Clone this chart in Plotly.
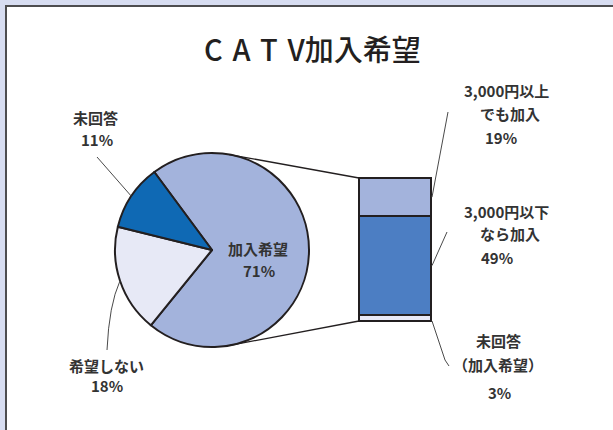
import math
import plotly.graph_objects as go

W, H = 613, 430

title_text = "C\u2004A\u2004T\u2004V加入希望"

# 円グラフ(全体)
pie_labels = ["加入希望", "希望しない", "未回答"]
pie_values = [71, 18, 11]
pie_colors = ["#a3b3dc", "#e7e9f6", "#0f69b4"]

# 棒グラフ(加入希望の内訳, 下から)
bar_labels = ["未回答（加入希望）", "3,000円以下なら加入", "3,000円以上でも加入"]
bar_values = [3, 49, 19]
bar_colors = ["#e7e9f6", "#4c7ec3", "#a3b3dc"]
bar_text_lines = [["未回答", "（加入希望）"], ["3,000円以下", "なら加入"], ["3,000円以上", "でも加入"]]

FONT = "Noto Sans CJK JP"
INK = "#231f20"
TXT = "#333333"

# レイアウト(ピクセル)
cx, cy, r = 212, 250, 97
bar_l, bar_r, bar_top, bar_bot = 359, 431, 178, 321
rot = -36.5


def px(x):
    return x / W


def py(y):
    return 1 - y / H


fig = go.Figure()

fig.add_trace(go.Pie(
    labels=pie_labels,
    values=pie_values,
    sort=False,
    direction="clockwise",
    rotation=rot,
    marker=dict(colors=pie_colors, line=dict(color=INK, width=2)),
    textinfo="none",
    hoverinfo="label+percent",
    showlegend=False,
    domain=dict(x=[px(cx - r), px(cx + r)], y=[py(cy + r), py(cy - r)]),
))

total_bar = sum(bar_values)
for lab, v, c in zip(bar_labels, bar_values, bar_colors):
    fig.add_trace(go.Bar(
        x=[0], y=[v], name=lab, width=1,
        marker=dict(color=c, line=dict(color=INK, width=2)),
        showlegend=False, xaxis="x", yaxis="y",
    ))

# 棒の軸: 余白を付けて枠線が切れないように
pad = 8
scale = (bar_bot - bar_top) / total_bar
ypad = pad / scale
xpad = pad / (bar_r - bar_l)

shapes = []
# 外枠
shapes.append(dict(type="rect", xref="paper", yref="paper",
                   x0=px(6), x1=px(W + 20), y0=py(H + 20), y1=py(6),
                   fillcolor="white", line=dict(color="#4d4d4f", width=2), layer="below"))


def line(x0, y0, x1, y1, w=1, color="#4a4a4a"):
    shapes.append(dict(type="line", xref="paper", yref="paper",
                       x0=px(x0), y0=py(y0), x1=px(x1), y1=py(y1),
                       line=dict(color=color, width=w), layer="above"))


# 円から棒への接線
def tangent(qx, qy, sign):
    dx, dy = qx - cx, qy - cy
    d = math.hypot(dx, dy)
    a = math.atan2(dy, dx) + sign * math.acos(r / d)
    return cx + r * math.cos(a), cy + r * math.sin(a)


tx, ty = tangent(bar_l, bar_top, -1)
line(tx, ty, bar_l, bar_top, 1.3, INK)
tx, ty = tangent(bar_l, bar_bot, 1)
line(tx, ty, bar_l, bar_bot, 1.3, INK)


# 円グラフのラベル線(スライス中央から)
def slice_mid(i):
    start = rot + sum(pie_values[:i]) * 3.6
    a = math.radians(start + pie_values[i] * 1.8)
    return cx + r * math.sin(a), cy - r * math.cos(a)


mx, my = slice_mid(2)
line(97, 157, mx, my)
mx, my = slice_mid(1)
shapes.append(dict(type="path", xref="paper", yref="paper",
                   path=f"M {px(107)},{py(350)} Q {px(109)},{py(305)} {px(mx)},{py(my)}",
                   line=dict(color="#4a4a4a", width=1), layer="above"))


# 棒グラフのラベル線
def seg_mid(i):
    return bar_bot - (sum(bar_values[:i]) + bar_values[i] / 2) * scale


line(bar_r + 1, seg_mid(2), 448, 112)
line(bar_r + 1, seg_mid(1), 447, 232)
line(bar_r + 1, bar_bot, 445, 360)
line(445, 360, 449, 366)

annotations = []


def label(x, y, text, size=15, color=TXT, weight="bold"):
    annotations.append(dict(xref="paper", yref="paper", x=px(x), y=py(y), text=text,
                            showarrow=False, xanchor="center", yanchor="middle",
                            font=dict(family=FONT, size=size, color=color, weight=weight)))


label(313, 48, title_text, size=29, color=INK, weight=500)

# 円グラフのラベル
label(96, 118, pie_labels[2])
label(97, 139, f"{pie_values[2]}%")
label(106, 365, pie_labels[1])
label(107, 385, f"{pie_values[1]}%")
label(258, 248, pie_labels[0])
label(259, 270, f"{pie_values[0]}%")

# 棒グラフのラベル
label(506, 90, bar_text_lines[2][0])
label(510, 114, bar_text_lines[2][1])
label(501, 137, f"{bar_values[2]}%")
label(506, 211, bar_text_lines[1][0])
label(510, 233, bar_text_lines[1][1])
label(497, 257, f"{bar_values[1]}%")
label(498, 340, bar_text_lines[0][0])
label(498, 364, bar_text_lines[0][1])
label(499, 392, f"{bar_values[0]}%")

fig.update_layout(
    width=W, height=H,
    margin=dict(l=0, r=0, t=0, b=0),
    paper_bgcolor="#d7ddf1",
    plot_bgcolor="rgba(0,0,0,0)",
    barmode="stack",
    bargap=0,
    xaxis=dict(domain=[px(bar_l - pad), px(bar_r + pad)], range=[-0.5 - xpad, 0.5 + xpad],
               visible=False, fixedrange=True),
    yaxis=dict(domain=[py(bar_bot + pad), py(bar_top - pad)], range=[-ypad, total_bar + ypad],
               visible=False, fixedrange=True),
    shapes=shapes,
    annotations=annotations,
)

fig.write_html("out.html", config={"displayModeBar": False},
               post_script="document.body.style.margin='0px';")
